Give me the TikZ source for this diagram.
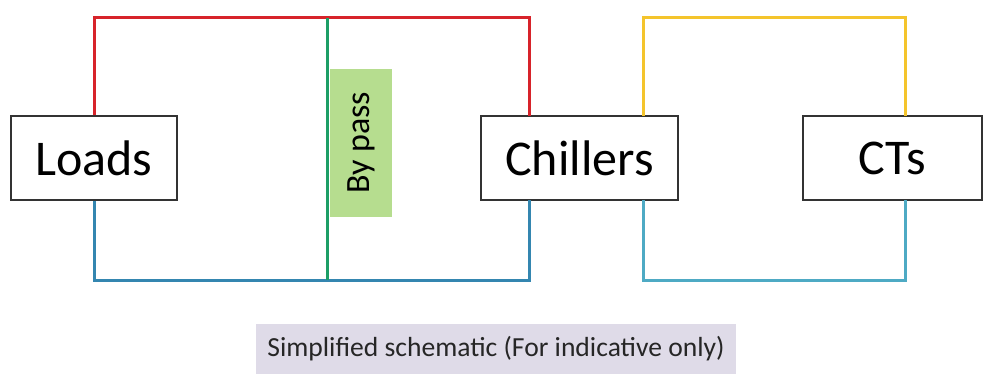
\documentclass[tikz,border=0pt]{standalone}
\usepackage{fontspec}
\setmainfont{Carlito}
\usepackage{tikz}
\usetikzlibrary{positioning, calc}
\usepackage{xcolor}

\definecolor{supplyred}{RGB}{215,35,42}
\definecolor{returnblue}{RGB}{52,134,176}
\definecolor{cwyellow}{RGB}{244,196,44}
\definecolor{cwteal}{RGB}{78,170,196}
\definecolor{bypassgreen}{RGB}{28,158,102}
\definecolor{bypassfill}{RGB}{182,221,143}
\definecolor{notefill}{RGB}{223,219,232}

\begin{document}
\begin{tikzpicture}[x=1pt, y=-1pt,
    plant/.style={draw=black!80, line width=1.2pt, fill=white, inner sep=0pt,
                  minimum height=84pt, font=\fontsize{50}{56}\selectfont},
    pipe/.style={line width=3pt}]
        \useasboundingbox (0, 0) rectangle (996, 374);

        % equipment
        \node[plant, minimum width=166pt] (loads) at (94, 158) {Loads};
        \node[plant, minimum width=197pt] (chillers) at (579.5, 158) {Chillers};
        \node[plant, minimum width=179pt] (cts) at (892.5, 158) {CTs};

        % pipe ports and corners
        \coordinate (chsupply) at (529.5, 116);
        \coordinate (chreturn) at (529.5, 200);
        \coordinate (cdout) at (643, 116);
        \coordinate (cdin) at (643, 200);
        \coordinate (ctin) at (905, 116);
        \coordinate (ctout) at (905, 200);
        \coordinate (bptop) at (327.5, 18);
        \coordinate (bpbot) at (327.5, 280);

        % chilled water loop
        \draw[pipe, supplyred] (loads.north) |- (chsupply |- 0, 18) -- (chsupply);
        \draw[pipe, returnblue] (loads.south) |- (chreturn |- 0, 280) -- (chreturn);
        \draw[pipe, bypassgreen] (bptop) -- (bpbot);

        % condenser water loop
        \draw[pipe, cwyellow] (cdout) -- (cdout |- 0, 18) -| (ctin);
        \draw[pipe, cwteal] (cdin) -- (cdin |- 0, 280) -| (ctout);

        \node[fill=bypassfill, inner sep=0pt, minimum width=62pt, minimum height=148pt] (bypass) at (361, 143) {};
        \node[rotate=90, font=\fontsize{34}{40}\selectfont] (bypasslabel) at (bypass.center) {By pass};

        \node[fill=notefill, inner sep=0pt, minimum width=480pt, minimum height=50pt,
              text=black!85, font=\fontsize{27.6}{32}\selectfont] (note) at (496, 349) {Simplified schematic (For indicative only)};

      \end{tikzpicture}
\end{document}
